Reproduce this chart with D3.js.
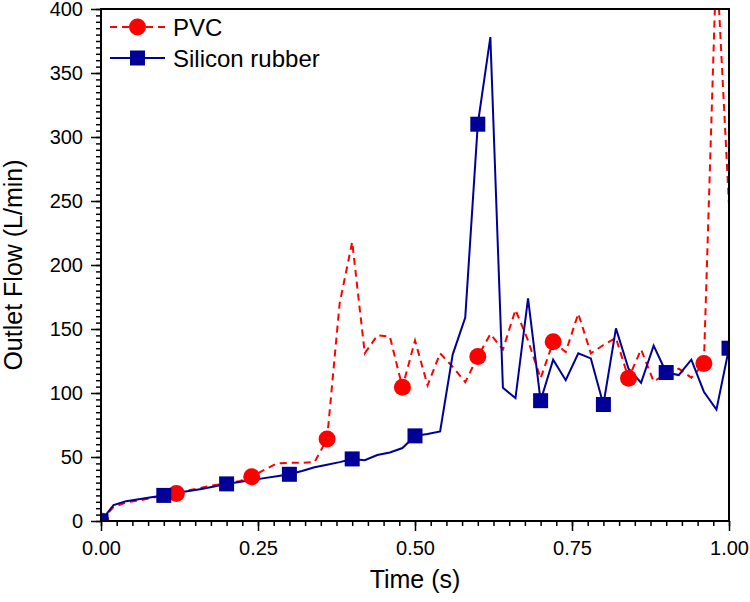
<!DOCTYPE html>
<html>
<head>
<meta charset="utf-8">
<script src="https://cdn.jsdelivr.net/npm/d3@7"></script>
<style>
  html, body { margin: 0; padding: 0; background: #fff; }
  svg { display: block; font-family: "Liberation Sans", Arial, Helvetica, sans-serif; }
</style>
</head>
<body>
<svg id="chart" width="750" height="602"></svg>
<script>
// ---------- data ----------
const time = [0.00,0.02,0.04,0.06,0.08,0.10,0.12,0.14,0.16,0.18,
              0.20,0.22,0.24,0.26,0.28,0.30,0.32,0.34,0.36,0.38,
              0.40,0.42,0.44,0.46,0.48,0.50,0.52,0.54,0.56,0.58,
              0.60,0.62,0.64,0.66,0.68,0.70,0.72,0.74,0.76,0.78,
              0.80,0.82,0.84,0.86,0.88,0.90,0.92,0.94,0.96,0.98,1.00];
const pvc = [0,11,14.5,16,18,20,21.5,24,26,28,
             29.5,31,34.5,40,45,45.5,45.5,46,64,170,
             218,131,145,144,104.5,141,106,131,120.5,108.5,
             128.5,146,134,165,141,111.5,140,132,162,131,
             137.5,143,111.5,134,109,115,119,112,123,440,247];
const silicon = [0,12.5,15.5,17,18.5,20,22,23.5,25,27,
                 29,30.5,32,33.5,35,36.5,39,42,44,46,
                 48.5,47.5,51.5,53.5,57,66.5,68,70,130,159,
                 310,378,104,96,174,94,126,110,131,127,
                 91,150.5,119,108,137,116,114,126,101,87,135];
const pvcMarkerIdx = [0,6,12,18,24,30,36,42,48];
const siliconMarkerIdx = [0,5,10,15,20,25,30,35,40,45,50];
const xTickValues = [0,0.25,0.5,0.75,1.0];
const yTickValues = [0,50,100,150,200,250,300,350,400];
const seriesNames = ["PVC","Silicon rubber"];

// ---------- layout ----------
const pLeft = 101, pRight = 729, pTop = 9, pBottom = 521;
const svg = d3.select("#chart");
const x = d3.scaleLinear().domain([0,1]).range([pLeft,pRight]);
const y = d3.scaleLinear().domain([0,400]).range([pBottom,pTop]);
const red = "#ff0000", blue = "#000099";

svg.append("defs").append("clipPath").attr("id","plotclip")
  .append("rect").attr("x",pLeft).attr("y",pTop).attr("width",pRight-pLeft).attr("height",pBottom-pTop);

// minor ticks
const xMinor = d3.range(0,1.0001,0.025);
const yMinor = d3.range(0,400.001,5);
svg.append("g").attr("transform",`translate(0,${pBottom})`)
  .call(d3.axisBottom(x).tickValues(xMinor).tickSize(5).tickFormat(""))
  .call(g=>g.select(".domain").remove())
  .call(g=>g.selectAll("line").attr("stroke","#000").attr("stroke-width",1.5));
svg.append("g").attr("transform",`translate(${pLeft},0)`)
  .call(d3.axisLeft(y).tickValues(yMinor).tickSize(5).tickFormat(""))
  .call(g=>g.select(".domain").remove())
  .call(g=>g.selectAll("line").attr("stroke","#000").attr("stroke-width",1.5));

// major axes
const xAxis = svg.append("g").attr("transform",`translate(0,${pBottom})`)
  .call(d3.axisBottom(x).tickValues(xTickValues).tickSize(10).tickPadding(10).tickFormat(d3.format(".2f")));
const yAxis = svg.append("g").attr("transform",`translate(${pLeft},0)`)
  .call(d3.axisLeft(y).tickValues(yTickValues).tickSize(10).tickPadding(8).tickFormat(d3.format("d")));
[xAxis,yAxis].forEach(a=>{
  a.select(".domain").remove();
  a.selectAll("line").attr("stroke","#000").attr("stroke-width",1.5);
  a.selectAll("text").attr("font-size",20).attr("fill","#000")
    .attr("font-family","'Liberation Sans', Arial, sans-serif");
});

// data lines
const plot = svg.append("g").attr("clip-path","url(#plotclip)");
const line = (vals)=>d3.line().x((d,i)=>x(time[i])).y(d=>y(d))(vals);
plot.append("path").attr("d",line(pvc)).attr("fill","none")
  .attr("stroke",red).attr("stroke-width",2).attr("stroke-dasharray","7,5");
plot.append("path").attr("d",line(silicon)).attr("fill","none")
  .attr("stroke",blue).attr("stroke-width",2);

plot.selectAll("circle.pvc").data(pvcMarkerIdx).enter().append("circle")
  .attr("cx",i=>x(time[i])).attr("cy",i=>y(pvc[i])).attr("r",8.5).attr("fill",red);
const sq = 15;
plot.selectAll("rect.si").data(siliconMarkerIdx).enter().append("rect")
  .attr("x",i=>x(time[i])-sq/2).attr("y",i=>y(silicon[i])-sq/2)
  .attr("width",sq).attr("height",sq).attr("fill",blue);

// frame
svg.append("rect").attr("x",pLeft).attr("y",pTop).attr("width",pRight-pLeft).attr("height",pBottom-pTop)
  .attr("fill","none").attr("stroke","#000").attr("stroke-width",2);

// legend
const lg = svg.append("g");
const rows = [
  {name:seriesNames[0], color:red, dash:"7,5", shape:"circle", y:27},
  {name:seriesNames[1], color:blue, dash:null, shape:"square", y:58}
];
rows.forEach(r=>{
  lg.append("line").attr("x1",110).attr("x2",165).attr("y1",r.y).attr("y2",r.y)
    .attr("stroke",r.color).attr("stroke-width",2).attr("stroke-dasharray",r.dash);
  if(r.shape==="circle"){
    lg.append("circle").attr("cx",137.5).attr("cy",r.y).attr("r",8.5).attr("fill",r.color);
  } else {
    lg.append("rect").attr("x",137.5-sq/2).attr("y",r.y-sq/2).attr("width",sq).attr("height",sq).attr("fill",r.color);
  }
  lg.append("text").attr("x",173).attr("y",r.y).attr("dy","0.36em")
    .attr("font-size",24).attr("fill","#000").text(r.name);
});

// axis titles
svg.append("text").attr("x",(pLeft+pRight)/2).attr("y",588).attr("text-anchor","middle")
  .attr("font-size",25).attr("fill","#000").text("Time (s)");
svg.append("text").attr("transform",`translate(22,${(pTop+pBottom)/2}) rotate(-90)`)
  .attr("text-anchor","middle").attr("font-size",25).attr("fill","#000").text("Outlet Flow (L/min)");
</script>
</body>
</html>
